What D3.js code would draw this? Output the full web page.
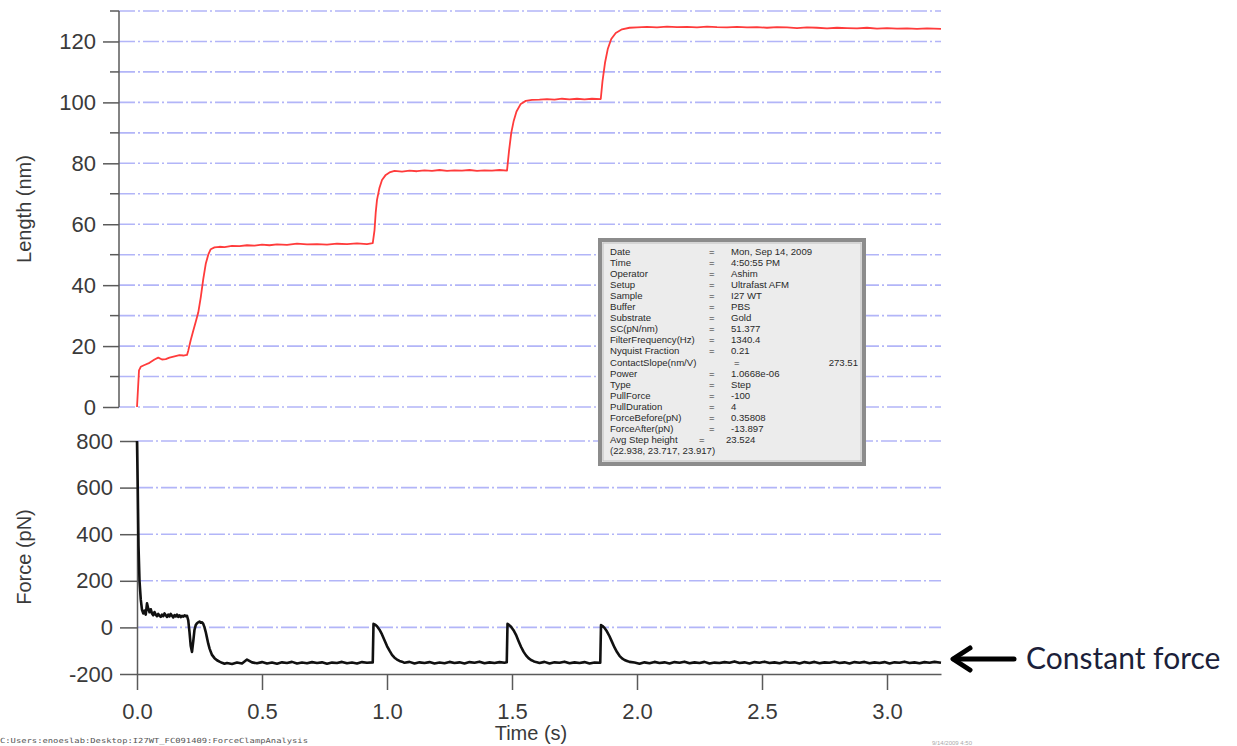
<!DOCTYPE html>
<html>
<head>
<meta charset="utf-8">
<script src="https://cdn.jsdelivr.net/npm/d3@7"></script>
<style>
  html, body { margin: 0; padding: 0; background: #fff; }
  svg { display: block; font-family: "Liberation Sans", Arial, sans-serif; }
</style>
</head>
<body>
<svg id="chart" width="1237" height="746"></svg>
<script>
// ---- tick values ----
const timeTicks = [0, 0.5, 1.0, 1.5, 2.0, 2.5, 3.0];
const lengthMajorTicks = [0, 20, 40, 60, 80, 100, 120];
const lengthMinorTicks = [10, 30, 50, 70, 90, 110, 130];
const lengthGrid = [0, 10, 20, 30, 40, 50, 60, 70, 80, 90, 100, 110, 120, 130];
const forceTicks = [-200, 0, 200, 400, 600, 800];
const forceGrid = [0, 200, 400, 600, 800];

// ---- length trace: [time (s), length (nm)] ----
const lengthTrace = [
  [0, 0], [0.004, 6], [0.008, 12], [0.015, 13.2], [0.03, 13.8], [0.05, 14.5], [0.07, 15.6],
  [0.085, 16.2], [0.1, 15.6], [0.115, 15.7], [0.13, 16.2], [0.15, 16.6], [0.17, 17.0],
  [0.185, 16.9], [0.2, 17.1], [0.205, 18.5], [0.215, 22], [0.225, 25], [0.235, 28],
  [0.245, 31], [0.255, 36], [0.265, 42], [0.275, 47], [0.285, 50], [0.295, 51.8],
  [0.31, 52.4], [0.33, 52.6], [0.35, 52.5], [0.38, 52.9], [0.41, 52.8], [0.44, 53.1],
  [0.47, 53.0], [0.5, 53.3], [0.53, 53.1], [0.56, 53.4], [0.6, 53.2], [0.64, 53.6],
  [0.68, 53.4], [0.72, 53.5], [0.76, 53.3], [0.8, 53.6], [0.84, 53.5], [0.88, 53.7],
  [0.92, 53.5], [0.943, 53.8],
  [0.95, 58], [0.955, 64], [0.96, 68], [0.97, 72], [0.98, 74.5], [0.995, 76.2],
  [1.01, 77.0], [1.03, 77.5], [1.06, 77.3], [1.09, 77.6], [1.12, 77.4], [1.15, 77.7],
  [1.18, 77.5], [1.21, 77.8], [1.24, 77.5], [1.27, 77.7], [1.3, 77.6], [1.33, 77.8],
  [1.36, 77.5], [1.39, 77.7], [1.42, 77.6], [1.45, 77.8], [1.48, 77.6],
  [1.488, 84], [1.497, 90], [1.507, 94], [1.518, 97], [1.535, 99.5], [1.555, 100.5],
  [1.58, 100.8], [1.61, 100.9], [1.64, 101.1], [1.67, 100.9], [1.7, 101.2], [1.73, 101.0],
  [1.76, 101.2], [1.79, 101.0], [1.82, 101.2], [1.855, 101.1],
  [1.862, 107], [1.872, 113], [1.883, 117.5], [1.897, 120.8], [1.915, 122.8],
  [1.94, 124.0], [1.97, 124.5], [2.0, 124.6], [2.04, 124.8], [2.08, 124.6], [2.12, 124.9],
  [2.16, 124.7], [2.2, 124.8], [2.24, 124.6], [2.28, 124.9], [2.32, 124.7], [2.36, 124.6],
  [2.4, 124.8], [2.44, 124.6], [2.48, 124.7], [2.52, 124.5], [2.56, 124.7], [2.6, 124.6],
  [2.64, 124.4], [2.68, 124.6], [2.72, 124.5], [2.76, 124.3], [2.8, 124.5], [2.84, 124.4],
  [2.88, 124.3], [2.92, 124.5], [2.96, 124.2], [3.0, 124.4], [3.04, 124.2], [3.08, 124.3],
  [3.12, 124.1], [3.16, 124.3], [3.216, 124.1]
];

// ---- force trace: [time (s), force (pN)] ----
const forceTrace = [
  [0, 800], [0.003, 600], [0.006, 350], [0.01, 200], [0.015, 120], [0.02, 75],
  [0.025, 60], [0.03, 72], [0.035, 55], [0.04, 103], [0.045, 80], [0.05, 65],
  [0.055, 78], [0.06, 60], [0.065, 52], [0.07, 66], [0.075, 55], [0.08, 48],
  [0.085, 58], [0.09, 50], [0.095, 45], [0.1, 55], [0.105, 48], [0.11, 60],
  [0.115, 52], [0.12, 45], [0.125, 55], [0.13, 47], [0.135, 58], [0.14, 50],
  [0.145, 43], [0.15, 53], [0.155, 47], [0.16, 55], [0.165, 45], [0.17, 52],
  [0.175, 44], [0.18, 50], [0.185, 46], [0.19, 52], [0.195, 48], [0.2, 50],
  [0.205, 30], [0.21, -20], [0.215, -80], [0.22, -105], [0.225, -60], [0.23, -10],
  [0.235, 10], [0.24, 18], [0.245, 22], [0.25, 25], [0.255, 20], [0.26, 22],
  [0.265, 15], [0.27, 0], [0.275, -20], [0.28, -45], [0.285, -70], [0.29, -90],
  [0.295, -105], [0.3, -118], [0.31, -132], [0.32, -141], [0.33, -147], [0.34, -152],
  [0.35, -156], [0.36, -153], [0.38, -157], [0.4, -151], [0.42, -155], [0.44, -138],
  [0.46, -150], [0.48, -154], [0.5, -149], [0.52, -155], [0.54, -151], [0.56, -156],
  [0.58, -150], [0.6, -153], [0.62, -148], [0.64, -155], [0.66, -151], [0.68, -154],
  [0.7, -149], [0.72, -153], [0.74, -150], [0.76, -156], [0.78, -151], [0.8, -153],
  [0.82, -148], [0.84, -154], [0.86, -151], [0.88, -155], [0.9, -149], [0.92, -152],
  [0.943, -150],
  [0.946, 15], [0.952, 12], [0.96, 5], [0.97, -10], [0.98, -30], [0.99, -55],
  [1.0, -80], [1.01, -100], [1.02, -118], [1.03, -130], [1.04, -138], [1.05, -144],
  [1.06, -147], [1.07, -152], [1.09, -148], [1.11, -155], [1.13, -150], [1.15, -153],
  [1.17, -149], [1.19, -155], [1.21, -151], [1.23, -154], [1.25, -148], [1.27, -153],
  [1.29, -150], [1.31, -155], [1.33, -149], [1.35, -152], [1.37, -147], [1.39, -154],
  [1.41, -150], [1.43, -153], [1.45, -149], [1.47, -152], [1.479, -150],
  [1.482, 15], [1.488, 11], [1.496, 3], [1.506, -12], [1.516, -32], [1.526, -58],
  [1.536, -83], [1.546, -104], [1.556, -120], [1.566, -132], [1.576, -140],
  [1.586, -145], [1.596, -149], [1.61, -153], [1.63, -148], [1.65, -155], [1.67, -150],
  [1.69, -152], [1.71, -147], [1.73, -154], [1.75, -150], [1.77, -153], [1.79, -149],
  [1.81, -155], [1.83, -151], [1.853, -152],
  [1.856, 10], [1.862, 6], [1.87, -2], [1.88, -18], [1.89, -38], [1.9, -62],
  [1.91, -86], [1.92, -106], [1.93, -122], [1.94, -133], [1.95, -140], [1.96, -144],
  [1.97, -148], [1.99, -151], [2.01, -156], [2.03, -150], [2.05, -154], [2.07, -148],
  [2.09, -153], [2.11, -150], [2.13, -155], [2.15, -149], [2.17, -152], [2.19, -147],
  [2.21, -154], [2.23, -150], [2.25, -153], [2.27, -148], [2.29, -155], [2.31, -151],
  [2.33, -153], [2.35, -149], [2.37, -152], [2.39, -146], [2.41, -153], [2.43, -150],
  [2.45, -155], [2.47, -149], [2.49, -152], [2.51, -147], [2.53, -153], [2.55, -150],
  [2.57, -154], [2.59, -148], [2.61, -152], [2.63, -150], [2.65, -155], [2.67, -149],
  [2.69, -153], [2.71, -148], [2.73, -154], [2.75, -150], [2.77, -152], [2.79, -147],
  [2.81, -153], [2.83, -150], [2.85, -155], [2.87, -149], [2.89, -152], [2.91, -148],
  [2.93, -154], [2.95, -150], [2.97, -153], [2.99, -149], [3.01, -155], [3.03, -150],
  [3.05, -152], [3.07, -147], [3.09, -153], [3.11, -150], [3.13, -154], [3.15, -149],
  [3.17, -152], [3.19, -148], [3.216, -152]
];

// ---- acquisition notes ----
const infoLabels = [
  "Date", "Time", "Operator", "Setup", "Sample", "Buffer", "Substrate", "SC(pN/nm)",
  "FilterFrequency(Hz)", "Nyquist Fraction", "ContactSlope(nm/V)", "Power", "Type",
  "PullForce", "PullDuration", "ForceBefore(pN)", "ForceAfter(pN)"
];
const infoValues = [
  "Mon, Sep 14, 2009", "4:50:55 PM", "Ashim", "Ultrafast AFM", "I27 WT", "PBS", "Gold",
  "51.377", "1340.4", "0.21", "273.51", "1.0668e-06", "Step", "-100", "4", "0.35808", "-13.897"
];
const stepLabel = "Avg Step height";
const stepValue = "23.524";
const stepList = "(22.938, 23.717, 23.917)";

const filePath = "C:Users:enoeslab:Desktop:I27WT_FC091409:ForceClampAnalysis";

// ---- drawing ----
const svg = d3.select("#chart");

const x = d3.scaleLinear().domain([0, 3.216]).range([137, 941]);
const yL = d3.scaleLinear().domain([0, 130]).range([407, 11]);
const yF = d3.scaleLinear().domain([-200, 800]).range([674, 441]);
const topAxisT = -0.072;   // length axis sits slightly left of t = 0

const gridColor = "#b2b5f8";
const gridDash = "16,3,2,3";
const axisColor = "#5a5a5a";
const labelColor = "#3a3a3a";
const intLabel = d => String(d);          // plain hyphen for negatives
const decLabel = d => d.toFixed(1);

// grid lines
svg.append("g").selectAll("line").data(lengthGrid).join("line")
  .attr("x1", x(topAxisT)).attr("x2", x(3.216))
  .attr("y1", d => yL(d)).attr("y2", d => yL(d))
  .attr("stroke", gridColor).attr("stroke-width", 1.6)
  .attr("stroke-dasharray", gridDash);

svg.append("g").selectAll("line").data(forceGrid).join("line")
  .attr("x1", x(0)).attr("x2", x(3.216))
  .attr("y1", d => yF(d)).attr("y2", d => yF(d))
  .attr("stroke", gridColor).attr("stroke-width", 1.6)
  .attr("stroke-dasharray", gridDash);

function styleAxis(g) {
  g.selectAll("path, line").attr("stroke", axisColor).attr("stroke-width", 1.5);
  g.selectAll("text").attr("fill", labelColor).attr("font-size", 22)
    .attr("font-family", "Liberation Sans, Arial, sans-serif");
}

// length axis (major + minor ticks)
const lenAxis = svg.append("g").attr("transform", `translate(${x(topAxisT)},0)`)
  .call(d3.axisLeft(yL).tickValues(lengthMajorTicks).tickSize(16).tickPadding(7)
    .tickSizeOuter(0).tickFormat(intLabel));
styleAxis(lenAxis);
lenAxis.select(".domain").attr("d", `M0,${yL(130)}V${yL(0)}`);
svg.append("g").attr("transform", `translate(${x(topAxisT)},0)`)
  .selectAll("line").data(lengthMinorTicks).join("line")
  .attr("x1", -9).attr("x2", 0)
  .attr("y1", d => yL(d)).attr("y2", d => yL(d))
  .attr("stroke", axisColor).attr("stroke-width", 1.5);

// force axis
const forceAxis = svg.append("g").attr("transform", `translate(${x(0)},0)`)
  .call(d3.axisLeft(yF).tickValues(forceTicks).tickSize(17).tickPadding(7)
    .tickSizeOuter(0).tickFormat(intLabel));
styleAxis(forceAxis);

// time axis
const timeAxis = svg.append("g").attr("transform", `translate(0,${yF(-200)})`)
  .call(d3.axisBottom(x).tickValues(timeTicks).tickSize(16).tickPadding(13)
    .tickSizeOuter(0).tickFormat(decLabel));
styleAxis(timeAxis);

// axis titles
svg.append("text").attr("transform", "translate(31,209) rotate(-90)")
  .attr("text-anchor", "middle").attr("font-size", 20).attr("fill", labelColor)
  .text("Length (nm)");
svg.append("text").attr("transform", "translate(31,557) rotate(-90)")
  .attr("text-anchor", "middle").attr("font-size", 20).attr("fill", labelColor)
  .text("Force (pN)");
svg.append("text").attr("x", 531).attr("y", 740)
  .attr("text-anchor", "middle").attr("font-size", 20).attr("fill", labelColor)
  .text("Time (s)");

// traces
const lenLine = d3.line().x(d => x(d[0])).y(d => yL(d[1]));
svg.append("path").datum(lengthTrace).attr("d", lenLine)
  .attr("fill", "none").attr("stroke", "#ff3b3b").attr("stroke-width", 1.8)
  .attr("stroke-linejoin", "round");

const forceLine = d3.line().x(d => x(d[0])).y(d => yF(d[1]));
svg.append("path").datum(forceTrace).attr("d", forceLine)
  .attr("fill", "none").attr("stroke", "#111").attr("stroke-width", 2.6)
  .attr("stroke-linejoin", "round");

// info panel
const box = svg.append("g");
box.append("rect").attr("x", 600).attr("y", 240).attr("width", 264).attr("height", 224)
  .attr("fill", "#ececec").attr("stroke", "#8c8c8c").attr("stroke-width", 4);
box.append("rect").attr("x", 603).attr("y", 243).attr("width", 258).attr("height", 218)
  .attr("fill", "none").attr("stroke", "#bdbdbd").attr("stroke-width", 1);

const rowY = i => 254.5 + i * 11.1;
const info = box.append("g").attr("font-size", 9.6).attr("fill", "#2a2a2a");
infoLabels.forEach((lab, i) => {
  info.append("text").attr("x", 610).attr("y", rowY(i)).text(lab);
  if (lab === "ContactSlope(nm/V)") {
    info.append("text").attr("x", 734).attr("y", rowY(i)).text("=");
    info.append("text").attr("x", 858).attr("y", rowY(i)).attr("text-anchor", "end").text(infoValues[i]);
  } else {
    info.append("text").attr("x", 709).attr("y", rowY(i)).text("=");
    info.append("text").attr("x", 731).attr("y", rowY(i)).text(infoValues[i]);
  }
});
info.append("text").attr("x", 610).attr("y", rowY(17)).text(stepLabel);
info.append("text").attr("x", 699).attr("y", rowY(17)).text("=");
info.append("text").attr("x", 726).attr("y", rowY(17)).text(stepValue);
info.append("text").attr("x", 610).attr("y", rowY(18)).text(stepList);

// annotation arrow
const arrow = svg.append("g").attr("stroke", "#000").attr("stroke-width", 5)
  .attr("stroke-linecap", "round").attr("fill", "none");
arrow.append("line").attr("x1", 1014).attr("y1", 659).attr("x2", 954).attr("y2", 659);
arrow.append("path").attr("d", "M970,648 L953,659 L970,670").attr("stroke-linejoin", "round");

svg.append("text").attr("x", 1026).attr("y", 669)
  .attr("font-family", "Lato, 'Open Sans', sans-serif").attr("font-size", 30)
  .attr("fill", "#1c1f3a").text("Constant force");

// footer notes
svg.append("text").attr("x", 0).attr("y", 743)
  .attr("font-family", "DejaVu Sans Mono, monospace").attr("font-size", 7)
  .attr("textLength", 308).attr("lengthAdjust", "spacingAndGlyphs")
  .attr("fill", "#555").text(filePath);
svg.append("text").attr("x", 932).attr("y", 745)
  .attr("font-size", 6).attr("fill", "#aaa").text("9/14/2009 4:50");
</script>
</body>
</html>
